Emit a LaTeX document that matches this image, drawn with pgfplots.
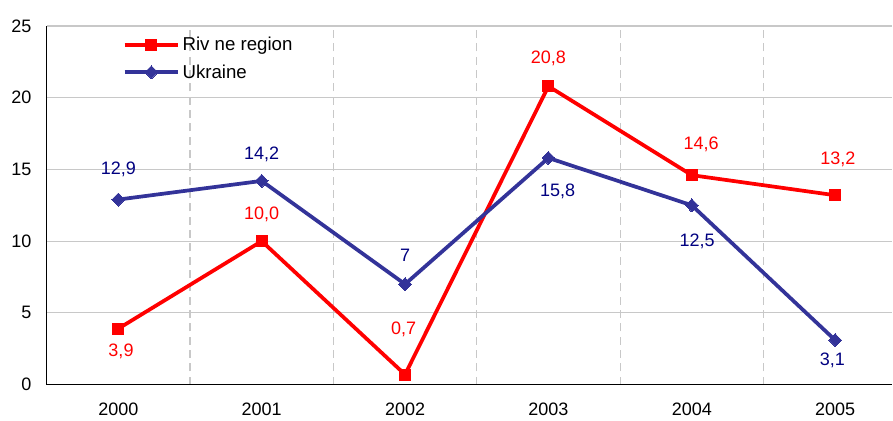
\documentclass[border=0pt]{standalone}
\usepackage{pgfplots}
\pgfplotsset{compat=1.18}
\usepackage{fontspec}
\setmainfont{Liberation Sans}
\definecolor{rv}{RGB}{255,0,0}
\definecolor{ua}{RGB}{51,51,153}
\definecolor{ualab}{RGB}{0,0,128}
\definecolor{gridc}{RGB}{200,200,200}
\begin{document}
\begin{tikzpicture}
\begin{axis}[
  scale only axis, width=634.5pt, height=269pt,
  xmin=-0.5, xmax=5.4, ymin=0, ymax=25,
  axis x line*=bottom, axis y line*=left,
  xtick={0,...,5}, xticklabels={2000,2001,2002,2003,2004,2005},
  ytick={0,5,...,25},
  minor xtick={0.5,1.5,2.5,3.5,4.5},
  major tick length=0pt, minor tick length=0pt,
  ymajorgrids, xminorgrids,
  major grid style={gridc, line width=0.8pt},
  minor grid style={gridc, line width=0.8pt, dash pattern=on 6pt off 4pt},
  tick label style={font=\fontsize{13.5}{16}\selectfont},
  /pgf/number format/assume math mode=true,
  yticklabel style={xshift=-8pt},
  xticklabel style={yshift=-10pt},
  legend cell align=left,
  legend style={at={(0.085,0.985)}, anchor=north west, draw=none, fill=none,
    font=\fontsize{14}{16}\selectfont, row sep=5pt},
  legend image code/.code={
    \draw[mark repeat=2, mark phase=2, #1] plot coordinates {(0pt,0pt) (20pt,0pt) (40pt,0pt)};},
  every axis plot/.append style={line width=2.8pt},
  nodes near coords, point meta=explicit symbolic,
  visualization depends on={value \thisrow{dx}\as\dx},
  visualization depends on={value \thisrow{dy}\as\dy},
  every node near coord/.append style={font=\fontsize{13.5}{16}\selectfont, anchor=center,
    xshift=\dx pt, yshift=\dy pt},
  clip=false,
]
\addplot[rv, mark=square*, mark size=4.1pt, mark options={line width=0pt},
  every node near coord/.append style={text=rv}] table[x=x, y=y, meta=lab] {
x y lab dx dy
0 3.9 {3,9} 2 -17
1 10.0 {10,0} 0 20
2 0.7 {0,7} -1 34
3 20.8 {20,8} 0 21
4 14.6 {14,6} 7 23
5 13.2 {13,2} 2 27
};
\addlegendentry{Riv ne region}
\addplot[ua, mark=diamond*, mark size=4.9pt, mark options={line width=0pt, xscale=1.3},
  every node near coord/.append style={text=ualab}] table[x=x, y=y, meta=lab] {
x y lab dx dy
0 12.9 {12,9} 0 23
1 14.2 {14,2} 0 20
2 7.0 {7} 0 22
3 15.8 {15,8} 7 -25
4 12.5 {12,5} 4 -27
5 3.1 {3,1} -2 -15
};
\addlegendentry{Ukraine}
\path (rel axis cs:0,0) ++(-35pt,-27pt);
\path (rel axis cs:0,1) ++(0,19.5pt);
\end{axis}
\end{tikzpicture}
\end{document}
